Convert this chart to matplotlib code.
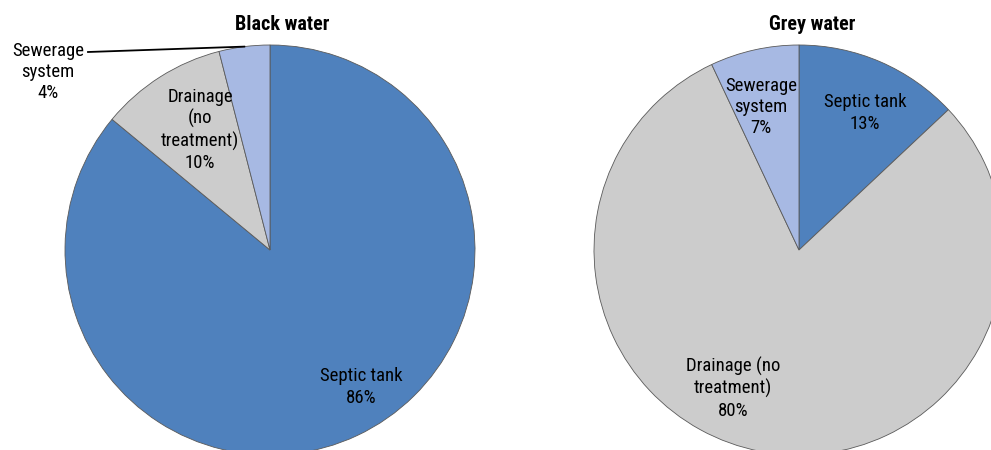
import numpy as np
import matplotlib
import matplotlib.pyplot as plt
from matplotlib import font_manager as fm

# look for a narrow face (Arial Narrow look), otherwise plain Liberation Sans
fonts = fm.fontManager.ttflist
names = {f.name for f in fonts}
narrow = None
for cand in ['Liberation Sans Narrow', 'Arial Narrow', 'Roboto Condensed',
             'Open Sans Condensed', 'Noto Sans Condensed']:
    if cand in names:
        narrow = cand
        break
stretch = 'normal'
if narrow is None:
    for f in fonts:
        if f.name == 'DejaVu Sans' and f.stretch == 'condensed':
            narrow, stretch = 'DejaVu Sans', 'condensed'
            break

if narrow:
    matplotlib.rcParams['font.family'] = [narrow, 'DejaVu Sans']
    matplotlib.rcParams['font.stretch'] = stretch
    fs, tfs, lsp = 13.5, 14.5, 1.24
else:
    matplotlib.rcParams['font.family'] = ['Liberation Sans', 'DejaVu Sans']
    fs, tfs, lsp = 12, 12.5, 1.2

# data
categories = ['Septic tank', 'Drainage (no treatment)', 'Sewerage system']
black_water = [86, 10, 4]
grey_water = [13, 80, 7]
black_labels = ['Septic tank\n86%', 'Drainage\n(no\ntreatment)\n10%', 'Sewerage\nsystem\n4%']
grey_labels = ['Septic tank\n13%', 'Drainage (no\ntreatment)\n80%', 'Sewerage\nsystem\n7%']
colors = ['#4F81BD', '#CCCCCC', '#A7B9E3']

W, H = 991, 450
fig = plt.figure(figsize=(W / 100, H / 100), dpi=100)
ax = fig.add_axes([0, 0, 1, 1])


def py(y):
    # pixel row -> data y
    return H - y


R = 205
centers = [(270, py(250)), (799, py(250))]

# label positions (pixel coords), same order as categories
black_pos = [(361, 387), (200, 130), (48, 72)]
grey_pos = [(865, 113), (733, 388), (761, 107)]

pies = [(black_water, black_labels, black_pos, 'Black water', 282),
        (grey_water, grey_labels, grey_pos, 'Grey water', 812)]

for (vals, labs, pos, title, tx), c in zip(pies, centers):
    wedges, _ = ax.pie(vals, colors=colors, startangle=90, counterclock=False,
                       center=c, radius=R, frame=True,
                       wedgeprops=dict(edgecolor='#5a5a5a', linewidth=0.6))
    for lab, (x, y) in zip(labs, pos):
        ax.text(x, py(y), lab, ha='center', va='center', fontsize=fs,
                linespacing=lsp, color='black')
    ax.text(tx, py(25), title, ha='center', va='center', fontsize=tfs,
            fontweight='bold')
    if title == 'Black water':
        w = wedges[2]
        ang = np.deg2rad((w.theta1 + w.theta2) / 2)
        ex = c[0] + R * np.cos(ang)
        ey = c[1] + R * np.sin(ang)
        ax.plot([88, ex], [py(52), ey], color='black', lw=1.3)

ax.set_xlim(0, W)
ax.set_ylim(0, H)
ax.set_aspect('equal')
ax.axis('off')

plt.savefig('out.png', dpi=100)
